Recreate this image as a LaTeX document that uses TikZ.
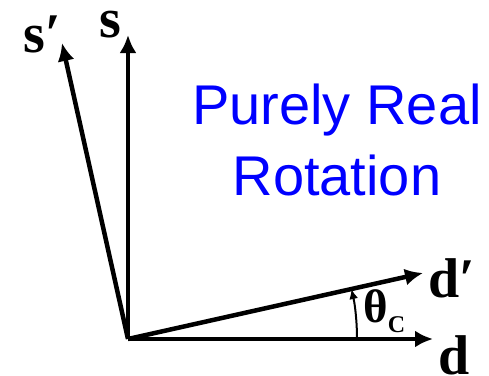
\documentclass[tikz,border=0pt]{standalone}
\usepackage{fontspec}
\setmainfont{Liberation Serif}
\newfontfamily\capfont{Liberation Sans}
\usetikzlibrary{arrows.meta}
\definecolor{capblue}{RGB}{0,0,255}

\begin{document}
\begin{tikzpicture}[x=1pt, y=-1pt, ->, >={Latex[length=18pt,width=17pt]}, line width=4.5pt,
  axlabel/.style={anchor=base west, inner sep=0pt, font=\fontsize{56}{56}\selectfont\bfseries},
  caption/.style={anchor=base, inner sep=0pt, text=capblue, font=\capfont\fontsize{56}{56}\selectfont}]
%
\useasboundingbox (0,0) rectangle (489,375);
%
\coordinate (O) at (128,339);
\coordinate (S) at (128,35);
\coordinate (Sp) at (62,43);
\coordinate (D) at (433,339);
\coordinate (Dp) at (423,273);
%
\node (ls) [axlabel] at (97,37) {s};
\node (lsp) [axlabel] at (21,52) {s′};
\node (ldp) [axlabel] at (426,297) {d′};
\node (ld) [axlabel] at (436,374) {d};
\node (lth) [anchor=base west, inner sep=0pt, font=\fontsize{47}{47}\selectfont\bfseries] at (361,322)
  {θ\raisebox{-10pt}{\fontsize{24}{24}\selectfont C}};
%
\node (t1) [caption] at (337,124) {Purely Real};
\node (t2) [caption] at (337,195) {Rotation};
%
\draw (O) -- (S);
\draw (O) -- (Sp);
\draw (O) -- (D);
\draw (O) -- (Dp);
\draw [line width=2pt, -{Latex[length=10pt,width=9pt]}] ([xshift=229pt]O) arc [start angle=0, end angle=-12.6, radius=229];
\end{tikzpicture}
\end{document}
